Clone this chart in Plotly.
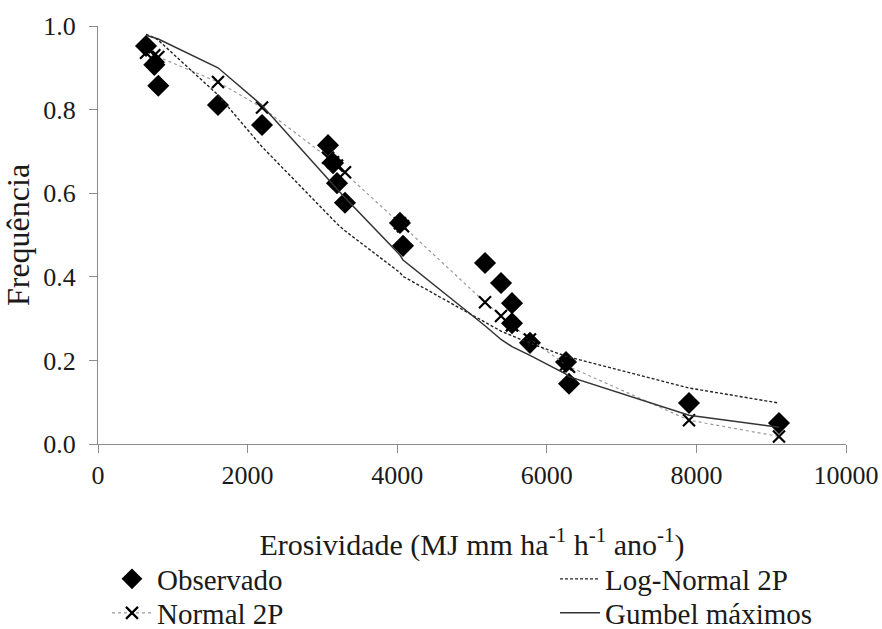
import plotly.graph_objects as go

# Erosivity values (x) shared by all series
erosividade = [642, 753, 806, 1604, 2193, 3075, 3142, 3195, 3302, 4037,
               4078, 5174, 5388, 5535, 5535, 5775, 6257, 6297, 7901, 9104]
observado = [0.952, 0.907, 0.857, 0.811, 0.763, 0.715, 0.672, 0.624, 0.577, 0.529,
             0.474, 0.433, 0.385, 0.337, 0.289, 0.242, 0.196, 0.144, 0.098, 0.050]
normal_2p = [0.936, 0.930, 0.926, 0.866, 0.805, 0.685, 0.674, 0.666, 0.650, 0.528,
             0.521, 0.339, 0.306, 0.284, 0.284, 0.250, 0.190, 0.185, 0.057, 0.018]
lognormal_2p = [0.980, 0.972, 0.966, 0.835, 0.711, 0.547, 0.535, 0.527, 0.510, 0.410,
                0.401, 0.290, 0.270, 0.259, 0.259, 0.241, 0.210, 0.208, 0.134, 0.098]
gumbel = [0.978, 0.972, 0.969, 0.900, 0.810, 0.634, 0.621, 0.610, 0.589, 0.452,
          0.440, 0.283, 0.250, 0.233, 0.233, 0.212, 0.167, 0.161, 0.069, 0.040]

x_ticks = [0, 2000, 4000, 6000, 8000, 10000]
y_ticks = [0.0, 0.2, 0.4, 0.6, 0.8, 1.0]

FONT = "Times New Roman, Liberation Serif, serif"

fig = go.Figure()

fig.add_trace(go.Scatter(
    x=erosividade, y=observado, mode="markers", name="Observado",
    marker=dict(symbol="diamond", size=17, color="black"),
    legend="legend",
))
fig.add_trace(go.Scatter(
    x=erosividade, y=normal_2p, mode="lines+markers", name="Normal 2P",
    line=dict(color="#9a9a9a", width=1.2, dash="dot"),
    marker=dict(symbol="x-thin-open", size=12, color="black",
                line=dict(color="black", width=2.2)),
    legend="legend3",
))
fig.add_trace(go.Scatter(
    x=erosividade, y=lognormal_2p, mode="lines", name="Log-Normal 2P",
    line=dict(color="#222222", width=1.4, dash="3px,2px"),
    legend="legend2",
))
fig.add_trace(go.Scatter(
    x=erosividade, y=gumbel, mode="lines", name="Gumbel máximos",
    line=dict(color="#333333", width=1.5),
    legend="legend4",
))

axis_common = dict(
    showgrid=False, zeroline=False, showline=True, linecolor="#8c8c8c",
    linewidth=1, ticks="outside", tickcolor="#8c8c8c", ticklen=8, tickwidth=1,
    tickfont=dict(family=FONT, size=26, color="#1a1a1a"),
    automargin=False,
)

def leg(x, y):
    return dict(
        x=x, y=y, xanchor="left", yanchor="middle", orientation="v",
        font=dict(family=FONT, size=29, color="#1a1a1a"),
        bgcolor="rgba(0,0,0,0)", tracegroupgap=0, itemwidth=40,
    )

fig.update_layout(
    width=882, height=629,
    margin=dict(l=98, r=36, t=26, b=185, autoexpand=False),
    paper_bgcolor="white", plot_bgcolor="white",
    font=dict(family=FONT, size=26, color="#1a1a1a"),
    showlegend=True,
    xaxis=dict(
        range=[0, 10000], tickvals=x_ticks, ticktext=[str(v) for v in x_ticks],
        title=dict(text="Erosividade (MJ mm ha<sup>-1</sup> h<sup>-1</sup> ano<sup>-1</sup>)",
                   font=dict(family=FONT, size=30), standoff=44),
        **axis_common,
    ),
    yaxis=dict(
        range=[0, 1.0], tickvals=y_ticks, ticktext=[f"{v:.1f}" for v in y_ticks],
        title=dict(text="Frequência", font=dict(family=FONT, size=32), standoff=4),
        ticklabelstandoff=8,
        **axis_common,
    ),
    legend=leg(0.012, -0.3230),
    legend2=leg(0.611, -0.3230),
    legend3=leg(0.012, -0.4043),
    legend4=leg(0.611, -0.4043),
)

fig.write_html("out.html")
